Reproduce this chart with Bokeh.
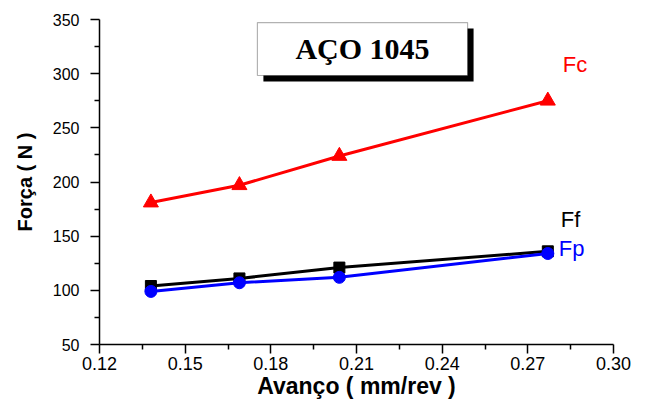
from bokeh.plotting import figure
from bokeh.models import Range1d, BoxAnnotation, Label, FixedTicker
from bokeh.core.properties import value
from bokeh.embed import file_html
from bokeh.resources import INLINE

avanco = [0.138, 0.169, 0.204, 0.277]
fc = [181, 197, 224, 275]
ff = [104, 111, 121, 136]
fp = [99, 107, 112, 134]
x_ticks = [0.12, 0.15, 0.18, 0.21, 0.24, 0.27, 0.30]
y_ticks = [50, 100, 150, 200, 250, 300, 350]
title_text = "AÇO 1045"

p = figure(width=633, height=402, output_backend="svg", toolbar_location=None,
           x_range=Range1d(0.12, 0.30), y_range=Range1d(50, 350),
           min_border_left=99, min_border_right=20, min_border_top=19, min_border_bottom=58)
p.outline_line_color = None
p.grid.visible = False
p.background_fill_color = "white"

for ax in (p.xaxis[0], p.yaxis[0]):
    ax.axis_line_color = "black"
    ax.axis_line_width = 1.5
    ax.major_tick_line_color = "black"
    ax.minor_tick_line_color = "black"
    ax.major_tick_line_width = 1.5
    ax.minor_tick_line_width = 1.5
    ax.major_tick_in = 0
    ax.minor_tick_in = 0
    ax.major_label_text_font = "Liberation Sans"
    ax.major_label_text_color = "black"
    ax.axis_label_text_font = "Liberation Sans"
    ax.axis_label_text_font_style = "bold"
    ax.axis_label_text_color = "black"

p.xaxis.ticker = FixedTicker(ticks=x_ticks, minor_ticks=[0.135, 0.165, 0.195, 0.225, 0.255, 0.285])
p.yaxis.ticker = FixedTicker(ticks=y_ticks, minor_ticks=[75, 125, 175, 225, 275, 325])
p.xaxis.major_label_overrides = {t: f"{t:.2f}" for t in x_ticks}
p.xaxis.major_label_text_font_size = "18px"
p.yaxis.major_label_text_font_size = "16px"
p.xaxis.axis_label_text_font_size = "23px"
p.yaxis.axis_label_text_font_size = "20px"
p.xaxis.major_tick_out = 9
p.xaxis.minor_tick_out = 5
p.yaxis.major_tick_out = 9
p.yaxis.minor_tick_out = 5
p.xaxis.axis_label = "Avanço ( mm/rev )"
p.yaxis.axis_label = "Força ( N )"
p.xaxis.major_label_standoff = 3
p.xaxis.axis_label_standoff = 0
p.yaxis.major_label_standoff = 11
p.yaxis.axis_label_standoff = 14

# title box with shadow
p.add_layout(BoxAnnotation(left=0.1774, right=0.2510, bottom=292.8, top=341.7,
                           fill_color="black", fill_alpha=1, line_color=None, level="overlay"))
p.add_layout(BoxAnnotation(left=0.1753, right=0.2489, bottom=298.3, top=347.2,
                           fill_color="white", fill_alpha=1, line_color="black", line_width=1.2, level="overlay"))
p.add_layout(Label(x=0.2121, y=322.8, text=title_text, text_align="center", text_baseline="middle",
                   text_font="Liberation Serif", text_font_style="bold", text_font_size="30px",
                   text_color="black", level="overlay"))

# series
p.line(avanco, fc, line_color="red", line_width=3)
p.scatter(avanco, fc, marker="triangle", size=15, color="red")
p.line(avanco, ff, line_color="black", line_width=3)
p.scatter(avanco, ff, marker="square", size=11, color="black")
p.line(avanco, fp, line_color="blue", line_width=3)
p.scatter(avanco, fp, marker="circle", size=12, color="blue")

p.text(x=[avanco[-1]], y=[fc[-1]], text=["Fc"], x_offset=15, y_offset=-36, text_color="red",
       text_font=value("Liberation Sans"), text_font_size="22px", text_baseline="middle", text_align="left")
p.text(x=[avanco[-1]], y=[ff[-1]], text=["Ff"], x_offset=13, y_offset=-32, text_color="black",
       text_font=value("Liberation Sans"), text_font_size="22px", text_baseline="middle", text_align="left")
p.text(x=[avanco[-1]], y=[fp[-1]], text=["Fp"], x_offset=11, y_offset=-5, text_color="blue",
       text_font=value("Liberation Sans"), text_font_size="22px", text_baseline="middle", text_align="left")

open("out.html", "w").write(file_html(p, INLINE))
